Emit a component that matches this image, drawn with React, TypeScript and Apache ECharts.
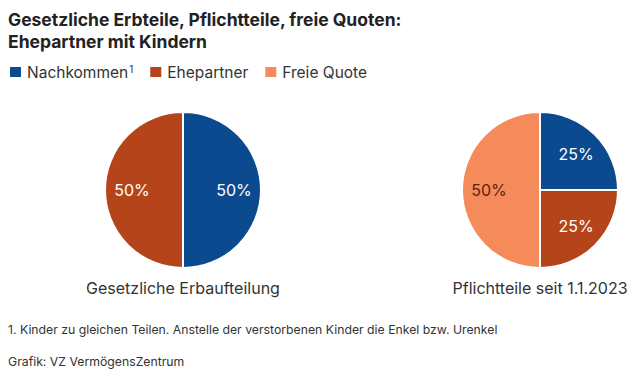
import React, { useEffect, useRef } from "react";
import * as echarts from "echarts";

const TITLE_LINES = ["Gesetzliche Erbteile, Pflichtteile, freie Quoten:", "Ehepartner mit Kindern"];
const CATEGORIES = ["Nachkommen", "Ehepartner", "Freie Quote"];
const COLORS = ["#0b4a8f", "#b5441a", "#f58b5a"];
const PIE1_VALUES = [50, 50];
const PIE2_VALUES = [25, 25, 50];
const PIE_TITLES = ["Gesetzliche Erbaufteilung", "Pflichtteile seit 1.1.2023"];
const FOOTNOTE = "1. Kinder zu gleichen Teilen. Anstelle der verstorbenen Kinder die Enkel bzw. Urenkel";
const SOURCE = "Grafik: VZ VermögensZentrum";

const FONT = "Inter, 'Noto Sans', sans-serif";

function buildData(values: number[], transparent: boolean) {
  return values.map((v, i) => ({
    name: CATEGORIES[i],
    value: v,
    itemStyle: { color: transparent ? "rgba(0,0,0,0)" : COLORS[i] },
    label: { color: i === 2 ? "#5a2410" : "#ffffff" },
  }));
}

export default function App() {
  const ref = useRef<HTMLDivElement>(null);
  useEffect(() => {
    if (!ref.current) return;
    const chart = echarts.init(ref.current, undefined, { renderer: "svg" });
    const pies: any[] = [];
    const centers = [[183, 190], [540, 190]];
    [PIE1_VALUES, PIE2_VALUES].forEach((vals, idx) => {
      pies.push({
        type: "pie",
        center: centers[idx],
        radius: [0, 78],
        startAngle: 90,
        clockwise: true,
        silent: true,
        label: { show: false },
        labelLine: { show: false },
        itemStyle: { borderColor: "#ffffff", borderWidth: 2 },
        emphasis: { disabled: true },
        data: buildData(vals, false),
      });
      pies.push({
        type: "pie",
        center: centers[idx],
        radius: [18, 78],
        startAngle: 90,
        clockwise: true,
        silent: true,
        label: {
          show: true,
          position: "inside",
          formatter: "{c}%",
          fontFamily: FONT,
          fontSize: 16,
        },
        labelLine: { show: false },
        emphasis: { disabled: true },
        data: buildData(vals, true),
      });
    });
    chart.setOption({
      animation: false,
      backgroundColor: "#ffffff",
      legend: {
        left: 8,
        top: 64,
        padding: 0,
        icon: "rect",
        itemWidth: 13,
        itemHeight: 12,
        itemGap: 15,
        selectedMode: false,
        data: CATEGORIES,
        formatter: (name: string) =>
          name === CATEGORIES[0] ? `{t|${name}}{s|1}` : `{t|${name}}`,
        textStyle: {
          rich: {
            t: { fontFamily: FONT, fontSize: 15.5, color: "#333333" },
            s: { fontFamily: FONT, fontSize: 10, color: "#333333", verticalAlign: "top", padding: [0, 0, 6, 1] },
          },
        },
      },
      graphic: [
        {
          type: "text",
          left: 8,
          top: 8,
          style: {
            text: TITLE_LINES.join("\n"),
            font: `bold 17.5px ${FONT}`,
            fill: "#222222",
            lineHeight: 22,
          },
        },
        {
          type: "text",
          x: centers[0][0],
          y: 288,
          style: { text: PIE_TITLES[0], font: `16px ${FONT}`, fill: "#333333", align: "center", verticalAlign: "middle" },
        },
        {
          type: "text",
          x: centers[1][0],
          y: 288,
          style: { text: PIE_TITLES[1], font: `16px ${FONT}`, fill: "#333333", align: "center", verticalAlign: "middle" },
        },
        {
          type: "text",
          x: 8,
          y: 329,
          style: { text: FOOTNOTE, font: `12.25px ${FONT}`, fill: "#333333", verticalAlign: "middle" },
        },
        {
          type: "text",
          x: 8,
          y: 361,
          style: { text: SOURCE, font: `12.25px ${FONT}`, fill: "#333333", verticalAlign: "middle" },
        },
      ],
      series: pies,
    });
    return () => chart.dispose();
  }, []);
  return (
    <div
      ref={ref}
      style={{ position: "fixed", left: 0, top: 0, width: 640, height: 383 }}
    />
  );
}
